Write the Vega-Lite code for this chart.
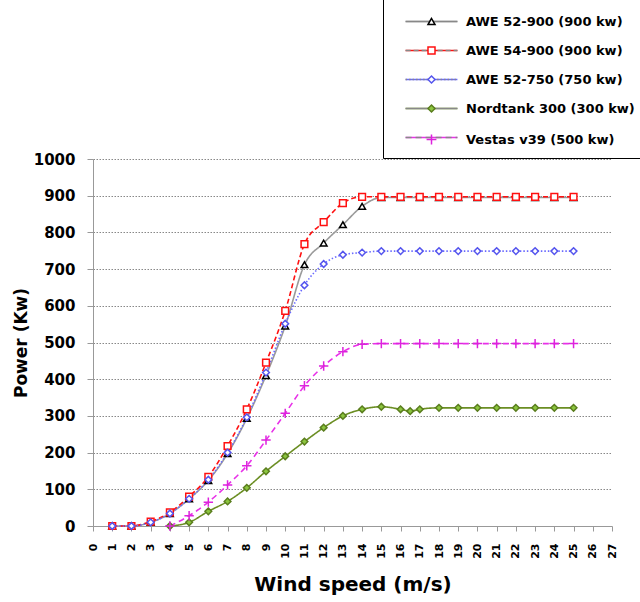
{
  "$schema": "https://vega.github.io/schema/vega-lite/v6.json",
  "width": 519,
  "height": 367,
  "autosize": {"type": "none"},
  "padding": {"left": 93, "top": 159, "right": 28, "bottom": 76},
  "background": "white",
  "config": {
    "font": "DejaVu Sans",
    "view": {"stroke": null},
    "axis": {"domainColor": "#999999", "tickColor": "#999999", "labelColor": "#000000", "titleColor": "#000000", "labelFontWeight": "bold", "titleFontWeight": "bold"}
  },
  "data": {
    "values": [
      {"series": "AWE 52-900 (900 kw)", "speed": 1, "power": 0},
      {"series": "AWE 52-900 (900 kw)", "speed": 2, "power": 0},
      {"series": "AWE 52-900 (900 kw)", "speed": 3, "power": 10},
      {"series": "AWE 52-900 (900 kw)", "speed": 4, "power": 34},
      {"series": "AWE 52-900 (900 kw)", "speed": 5, "power": 74},
      {"series": "AWE 52-900 (900 kw)", "speed": 6, "power": 124},
      {"series": "AWE 52-900 (900 kw)", "speed": 7, "power": 197},
      {"series": "AWE 52-900 (900 kw)", "speed": 8, "power": 293},
      {"series": "AWE 52-900 (900 kw)", "speed": 9, "power": 410},
      {"series": "AWE 52-900 (900 kw)", "speed": 10, "power": 545},
      {"series": "AWE 52-900 (900 kw)", "speed": 11, "power": 712},
      {"series": "AWE 52-900 (900 kw)", "speed": 12, "power": 771},
      {"series": "AWE 52-900 (900 kw)", "speed": 13, "power": 821},
      {"series": "AWE 52-900 (900 kw)", "speed": 14, "power": 871},
      {"series": "AWE 52-900 (900 kw)", "speed": 15, "power": 895},
      {"series": "AWE 52-900 (900 kw)", "speed": 16, "power": 895},
      {"series": "AWE 52-900 (900 kw)", "speed": 17, "power": 895},
      {"series": "AWE 52-900 (900 kw)", "speed": 18, "power": 895},
      {"series": "AWE 52-900 (900 kw)", "speed": 19, "power": 895},
      {"series": "AWE 52-900 (900 kw)", "speed": 20, "power": 895},
      {"series": "AWE 52-900 (900 kw)", "speed": 21, "power": 895},
      {"series": "AWE 52-900 (900 kw)", "speed": 22, "power": 895},
      {"series": "AWE 52-900 (900 kw)", "speed": 23, "power": 895},
      {"series": "AWE 52-900 (900 kw)", "speed": 24, "power": 895},
      {"series": "AWE 52-900 (900 kw)", "speed": 25, "power": 895},
      {"series": "AWE 54-900 (900 kw)", "speed": 1, "power": 0},
      {"series": "AWE 54-900 (900 kw)", "speed": 2, "power": 0},
      {"series": "AWE 54-900 (900 kw)", "speed": 3, "power": 12},
      {"series": "AWE 54-900 (900 kw)", "speed": 4, "power": 37},
      {"series": "AWE 54-900 (900 kw)", "speed": 5, "power": 80},
      {"series": "AWE 54-900 (900 kw)", "speed": 6, "power": 134},
      {"series": "AWE 54-900 (900 kw)", "speed": 7, "power": 218},
      {"series": "AWE 54-900 (900 kw)", "speed": 8, "power": 318},
      {"series": "AWE 54-900 (900 kw)", "speed": 9, "power": 445},
      {"series": "AWE 54-900 (900 kw)", "speed": 10, "power": 586},
      {"series": "AWE 54-900 (900 kw)", "speed": 11, "power": 768},
      {"series": "AWE 54-900 (900 kw)", "speed": 12, "power": 828},
      {"series": "AWE 54-900 (900 kw)", "speed": 13, "power": 880},
      {"series": "AWE 54-900 (900 kw)", "speed": 14, "power": 897},
      {"series": "AWE 54-900 (900 kw)", "speed": 15, "power": 897},
      {"series": "AWE 54-900 (900 kw)", "speed": 16, "power": 897},
      {"series": "AWE 54-900 (900 kw)", "speed": 17, "power": 897},
      {"series": "AWE 54-900 (900 kw)", "speed": 18, "power": 897},
      {"series": "AWE 54-900 (900 kw)", "speed": 19, "power": 897},
      {"series": "AWE 54-900 (900 kw)", "speed": 20, "power": 897},
      {"series": "AWE 54-900 (900 kw)", "speed": 21, "power": 897},
      {"series": "AWE 54-900 (900 kw)", "speed": 22, "power": 897},
      {"series": "AWE 54-900 (900 kw)", "speed": 23, "power": 897},
      {"series": "AWE 54-900 (900 kw)", "speed": 24, "power": 897},
      {"series": "AWE 54-900 (900 kw)", "speed": 25, "power": 897},
      {"series": "AWE 52-750 (750 kw)", "speed": 1, "power": 0},
      {"series": "AWE 52-750 (750 kw)", "speed": 2, "power": 0},
      {"series": "AWE 52-750 (750 kw)", "speed": 3, "power": 10},
      {"series": "AWE 52-750 (750 kw)", "speed": 4, "power": 34},
      {"series": "AWE 52-750 (750 kw)", "speed": 5, "power": 74},
      {"series": "AWE 52-750 (750 kw)", "speed": 6, "power": 126},
      {"series": "AWE 52-750 (750 kw)", "speed": 7, "power": 200},
      {"series": "AWE 52-750 (750 kw)", "speed": 8, "power": 296},
      {"series": "AWE 52-750 (750 kw)", "speed": 9, "power": 418},
      {"series": "AWE 52-750 (750 kw)", "speed": 10, "power": 551},
      {"series": "AWE 52-750 (750 kw)", "speed": 11, "power": 656},
      {"series": "AWE 52-750 (750 kw)", "speed": 12, "power": 714},
      {"series": "AWE 52-750 (750 kw)", "speed": 13, "power": 739},
      {"series": "AWE 52-750 (750 kw)", "speed": 14, "power": 745},
      {"series": "AWE 52-750 (750 kw)", "speed": 15, "power": 749},
      {"series": "AWE 52-750 (750 kw)", "speed": 16, "power": 749},
      {"series": "AWE 52-750 (750 kw)", "speed": 17, "power": 749},
      {"series": "AWE 52-750 (750 kw)", "speed": 18, "power": 749},
      {"series": "AWE 52-750 (750 kw)", "speed": 19, "power": 749},
      {"series": "AWE 52-750 (750 kw)", "speed": 20, "power": 749},
      {"series": "AWE 52-750 (750 kw)", "speed": 21, "power": 749},
      {"series": "AWE 52-750 (750 kw)", "speed": 22, "power": 749},
      {"series": "AWE 52-750 (750 kw)", "speed": 23, "power": 749},
      {"series": "AWE 52-750 (750 kw)", "speed": 24, "power": 749},
      {"series": "AWE 52-750 (750 kw)", "speed": 25, "power": 749},
      {"series": "Nordtank 300 (300 kw)", "speed": 4, "power": 0},
      {"series": "Nordtank 300 (300 kw)", "speed": 5, "power": 10},
      {"series": "Nordtank 300 (300 kw)", "speed": 6, "power": 40},
      {"series": "Nordtank 300 (300 kw)", "speed": 7, "power": 67},
      {"series": "Nordtank 300 (300 kw)", "speed": 8, "power": 104},
      {"series": "Nordtank 300 (300 kw)", "speed": 9, "power": 149},
      {"series": "Nordtank 300 (300 kw)", "speed": 10, "power": 190},
      {"series": "Nordtank 300 (300 kw)", "speed": 11, "power": 230},
      {"series": "Nordtank 300 (300 kw)", "speed": 12, "power": 268},
      {"series": "Nordtank 300 (300 kw)", "speed": 13, "power": 300},
      {"series": "Nordtank 300 (300 kw)", "speed": 14, "power": 318},
      {"series": "Nordtank 300 (300 kw)", "speed": 15, "power": 325},
      {"series": "Nordtank 300 (300 kw)", "speed": 16, "power": 318},
      {"series": "Nordtank 300 (300 kw)", "speed": 16.5, "power": 313},
      {"series": "Nordtank 300 (300 kw)", "speed": 17, "power": 318},
      {"series": "Nordtank 300 (300 kw)", "speed": 18, "power": 322},
      {"series": "Nordtank 300 (300 kw)", "speed": 19, "power": 322},
      {"series": "Nordtank 300 (300 kw)", "speed": 20, "power": 322},
      {"series": "Nordtank 300 (300 kw)", "speed": 21, "power": 322},
      {"series": "Nordtank 300 (300 kw)", "speed": 22, "power": 322},
      {"series": "Nordtank 300 (300 kw)", "speed": 23, "power": 322},
      {"series": "Nordtank 300 (300 kw)", "speed": 24, "power": 322},
      {"series": "Nordtank 300 (300 kw)", "speed": 25, "power": 322},
      {"series": "Vestas v39 (500 kw)", "speed": 4, "power": 0},
      {"series": "Vestas v39 (500 kw)", "speed": 5, "power": 28},
      {"series": "Vestas v39 (500 kw)", "speed": 6, "power": 65},
      {"series": "Vestas v39 (500 kw)", "speed": 7, "power": 112},
      {"series": "Vestas v39 (500 kw)", "speed": 8, "power": 164},
      {"series": "Vestas v39 (500 kw)", "speed": 9, "power": 234},
      {"series": "Vestas v39 (500 kw)", "speed": 10, "power": 307},
      {"series": "Vestas v39 (500 kw)", "speed": 11, "power": 382},
      {"series": "Vestas v39 (500 kw)", "speed": 12, "power": 436},
      {"series": "Vestas v39 (500 kw)", "speed": 13, "power": 475},
      {"series": "Vestas v39 (500 kw)", "speed": 14, "power": 495},
      {"series": "Vestas v39 (500 kw)", "speed": 15, "power": 497},
      {"series": "Vestas v39 (500 kw)", "speed": 16, "power": 497},
      {"series": "Vestas v39 (500 kw)", "speed": 17, "power": 497},
      {"series": "Vestas v39 (500 kw)", "speed": 18, "power": 497},
      {"series": "Vestas v39 (500 kw)", "speed": 19, "power": 497},
      {"series": "Vestas v39 (500 kw)", "speed": 20, "power": 497},
      {"series": "Vestas v39 (500 kw)", "speed": 21, "power": 497},
      {"series": "Vestas v39 (500 kw)", "speed": 22, "power": 497},
      {"series": "Vestas v39 (500 kw)", "speed": 23, "power": 497},
      {"series": "Vestas v39 (500 kw)", "speed": 24, "power": 497},
      {"series": "Vestas v39 (500 kw)", "speed": 25, "power": 497}
    ]
  },
  "encoding": {
    "x": {
      "field": "speed", "type": "quantitative",
      "scale": {"domain": [0, 27], "nice": false, "zero": false},
      "axis": {
        "title": "Wind speed (m/s)",
        "values": [0,1,2,3,4,5,6,7,8,9,10,11,12,13,14,15,16,17,18,19,20,21,22,23,24,25,26,27],
        "labelAngle": 270, "labelFontSize": 11, "labelPadding": 12, "tickSize": 5,
        "grid": false, "titleFontSize": 20, "titlePadding": 16, "labelOverlap": false
      }
    },
    "y": {
      "field": "power", "type": "quantitative",
      "scale": {"domain": [0, 1000], "nice": false},
      "axis": {
        "title": "Power (Kw)", "format": "d",
        "values": [0,100,200,300,400,500,600,700,800,900,1000],
        "labelFontSize": 15, "labelPadding": 12, "tickSize": 6,
        "grid": true, "gridDash": [1.5, 1.5], "gridColor": "#888888", "gridWidth": 1,
        "titleFontSize": 17, "titlePadding": 3
      }
    }
  },
  "layer": [
    {
      "mark": {"type": "line", "interpolate": "monotone", "strokeWidth": 1.6},
      "encoding": {
        "detail": {"field": "series", "type": "nominal"},
        "stroke": {
          "field": "series", "type": "nominal",
          "sort": ["AWE 52-900 (900 kw)", "AWE 54-900 (900 kw)", "AWE 52-750 (750 kw)", "Nordtank 300 (300 kw)", "Vestas v39 (500 kw)"],
          "scale": {"range": ["#9a9a9a", "#ff1010", "#6a6aff", "#6b8e23", "#e830e8"]},
          "legend": {
            "orient": "none", "legendX": 290, "legendY": -160, "direction": "vertical",
            "title": " ", "titleFontSize": 6, "titlePadding": 0, "padding": 10,
            "symbolType": "M-7.4,0H7.4", "symbolSize": 49, "symbolStrokeWidth": 1.6, "symbolOffset": 32,
            "labelOffset": 28, "labelFontSize": 13, "labelFontWeight": "bold", "labelFont": "DejaVu Sans",
            "labelOpacity": 0, "rowPadding": 15, "labelLimit": 400
          }
        },
        "strokeDash": {
          "field": "series", "type": "nominal",
          "sort": ["AWE 52-900 (900 kw)", "AWE 54-900 (900 kw)", "AWE 52-750 (750 kw)", "Nordtank 300 (300 kw)", "Vestas v39 (500 kw)"],
          "scale": {"range": [[1, 0], [5, 3], [1.5, 2], [1, 0], [6, 4]]},
          "legend": {
            "orient": "none", "legendX": 290, "legendY": -160, "direction": "vertical",
            "title": " ", "titleFontSize": 6, "titlePadding": 0, "padding": 10,
            "symbolType": "M-7.4,0H7.4", "symbolSize": 49, "symbolStrokeWidth": 1.6, "symbolOffset": 32,
            "labelOffset": 28, "labelFontSize": 13, "labelFontWeight": "bold", "labelFont": "DejaVu Sans",
            "labelOpacity": 0, "rowPadding": 15, "labelLimit": 400
          }
        }
      }
    },
    {
      "mark": {"type": "point", "filled": false, "strokeWidth": 1.5, "opacity": 1, "size": 45},
      "encoding": {
        "color": {
          "field": "series", "type": "nominal",
          "scale": {
            "domain": ["AWE 52-900 (900 kw)", "AWE 54-900 (900 kw)", "AWE 52-750 (750 kw)", "Nordtank 300 (300 kw)", "Vestas v39 (500 kw)"],
            "range": ["#000000", "#ff1010", "#5555ee", "#5a7d1e", "#dd22dd"]
          },
          "legend": {
            "orient": "none", "legendX": 290, "legendY": -160, "direction": "vertical",
            "title": " ", "titleFontSize": 6, "titlePadding": 0, "padding": 10, "strokeColor": "#000000",
            "symbolSize": 49, "symbolStrokeWidth": 1.5, "symbolOffset": 32, "symbolOpacity": 1,
            "labelOffset": 28, "labelFontSize": 13, "labelFontWeight": "bold", "labelFont": "DejaVu Sans", "labelColor": "#000000",
            "rowPadding": 15, "labelLimit": 400
          }
        },
        "fill": {
          "field": "series", "type": "nominal",
          "scale": {
            "domain": ["AWE 52-900 (900 kw)", "AWE 54-900 (900 kw)", "AWE 52-750 (750 kw)", "Nordtank 300 (300 kw)", "Vestas v39 (500 kw)"],
            "range": ["#ffffff", "#ffffff", "#ffffff", "#8cc63f", "#ffffff"]
          },
          "legend": {
            "orient": "none", "legendX": 290, "legendY": -160, "direction": "vertical",
            "title": " ", "titleFontSize": 6, "titlePadding": 0, "padding": 10, "strokeColor": "#000000",
            "symbolSize": 49, "symbolStrokeWidth": 1.5, "symbolOffset": 32, "symbolOpacity": 1,
            "labelOffset": 28, "labelFontSize": 13, "labelFontWeight": "bold", "labelFont": "DejaVu Sans", "labelColor": "#000000",
            "rowPadding": 15, "labelLimit": 400
          }
        },
        "shape": {
          "field": "series", "type": "nominal",
          "scale": {
            "domain": ["AWE 52-900 (900 kw)", "AWE 54-900 (900 kw)", "AWE 52-750 (750 kw)", "Nordtank 300 (300 kw)", "Vestas v39 (500 kw)"],
            "range": ["triangle-up", "square", "diamond", "diamond", "M0,-1.4V1.4M-1.4,0H1.4"]
          },
          "legend": {
            "orient": "none", "legendX": 290, "legendY": -160, "direction": "vertical",
            "title": " ", "titleFontSize": 6, "titlePadding": 0, "padding": 10, "strokeColor": "#000000",
            "symbolSize": 49, "symbolStrokeWidth": 1.5, "symbolOffset": 32, "symbolOpacity": 1,
            "labelOffset": 28, "labelFontSize": 13, "labelFontWeight": "bold", "labelFont": "DejaVu Sans", "labelColor": "#000000",
            "rowPadding": 15, "labelLimit": 400
          }
        }
      }
    }
  ]
}
